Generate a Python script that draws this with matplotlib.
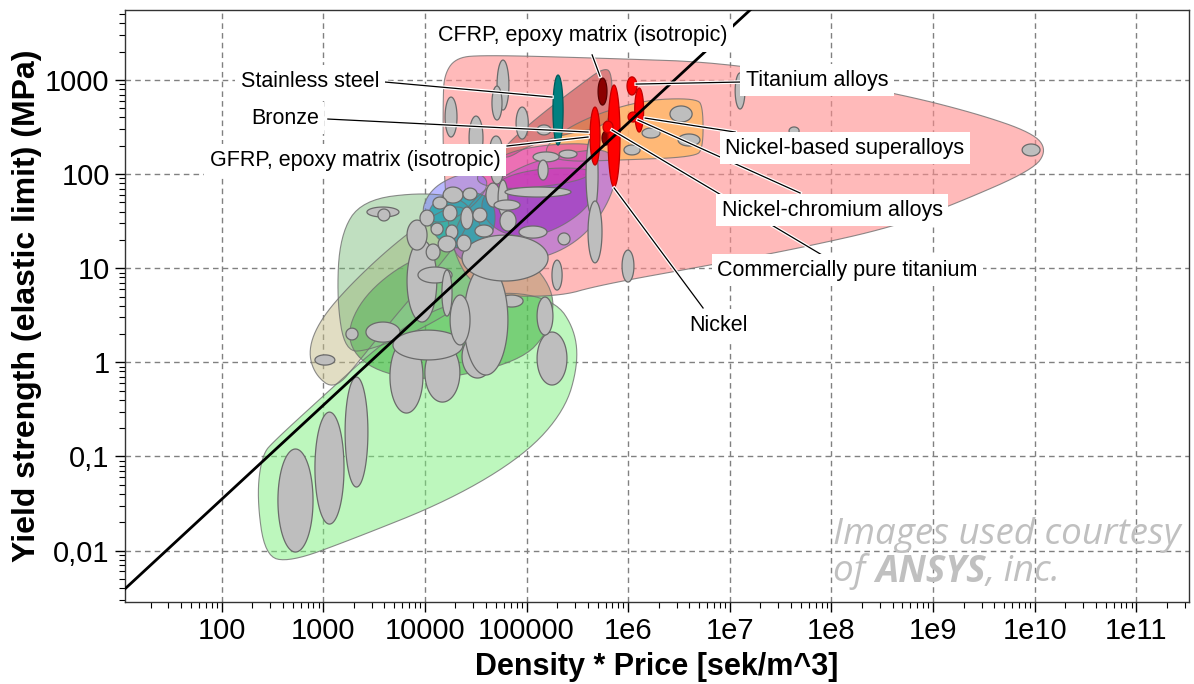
import numpy as np
import matplotlib.pyplot as plt
import matplotlib.patheffects as pe
from matplotlib.ticker import FixedLocator, FuncFormatter, LogLocator, NullFormatter

plt.rcParams['font.family'] = ['Liberation Sans', 'DejaVu Sans']

# ---- family envelopes (density*price [sek/m^3], yield strength [MPa]) ----
env_lightgreen_x = [2.22e2, 2.49e2, 3.35e2, 1.16e3, 3.61e3, 1.12e4, 5.48e4, 1.91e5, 3.0e5, 3.21e5, 2.39e5, 9.66e4, 1.77e4, 1.83e3, 4.70e2, 2.67e2]
env_lightgreen_y = [0.0371, 0.104, 0.149, 0.508, 1.53, 3.60, 5.86, 4.59, 2.20, 0.935, 0.311, 0.104, 0.0344, 0.0129, 0.00755, 0.00873]
env_tan_x = [7.08e2, 9.29e2, 1.83e3, 5.07e3, 1.41e4, 2.48e4, 2.78e4, 1.41e4, 5.69e3, 2.30e3, 1.30e3, 8.28e2]
env_tan_y = [1.35, 2.82, 6.64, 18.5, 41.5, 47.0, 28.8, 10.8, 3.60, 1.06, 0.508, 0.733]
env_midgreen_x = [1.64e3, 2.30e3, 5.69e3, 1.77e4, 8.63e4, 1.91e5, 1.70e5, 8.63e4, 1.12e4, 2.88e3]
env_midgreen_y = [1.73, 4.59, 10.8, 17.7, 15.6, 5.86, 2.20, 1.01, 0.618, 0.828]
env_sage_x = [2.40e3, 1.0e4, 2.78e4, 4.38e4, 2.78e4, 8.95e3, 2.88e3, 1.64e3, 1.36e3, 1.46e3]
env_sage_y = [53.1, 64.6, 53.1, 15.6, 4.59, 2.20, 1.35, 1.29, 4.59, 22.5]
env_pink_x = [1.51e4, 1.55e4, 1.98e4, 3.48e4, 5.28e5, 1.13e7, 4.24e8, 2.59e9, 9.66e9, 1.32e10, 9.66e9, 1.73e9, 4.05e8, 4.92e7, 6.39e6, 5.28e5, 2.0e5, 3.48e4, 1.77e4, 1.51e4]
env_pink_y = [612, 1130, 1700, 1850, 1710, 1520, 728, 446, 274, 180, 111, 49.3, 27.4, 16.4, 10.8, 6.64, 4.94, 5.19, 15.6, 141]
env_orange_x = [1.36e5, 3.0e5, 1.31e6, 4.76e6, 5.46e6, 5.46e6, 4.55e6, 8.32e5, 2.14e5]
env_orange_y = [180, 358, 612, 644, 504, 189, 152, 141, 135]
env_cfrp_x = [5.48e4, 1.36e5, 3.36e5, 5.66e5, 6.95e5, 6.95e5, 5.28e5, 2.68e5, 1.08e5, 6.14e4]
env_cfrp_y = [180, 425, 885, 1340, 1220, 425, 309, 274, 204, 141]
env_lavender_x = [1.77e4, 2.78e4, 8.63e4, 3.36e5, 6.95e5, 7.96e5, 5.92e5, 3.36e5, 1.52e5, 4.90e4, 2.21e4]
env_lavender_y = [20.0, 53.1, 125, 180, 180, 97.7, 41.5, 20.0, 12.8, 10.8, 11.6]
env_purple_x = [3.48e4, 5.48e4, 1.36e5, 4.22e5, 5.28e5, 4.22e5, 2.39e5, 1.21e5, 6.14e4, 3.90e4]
env_purple_y = [53.1, 91.0, 116, 116, 86.5, 47.0, 28.8, 21.5, 22.5, 32.5]
env_magenta_x = [2.78e4, 5.48e4, 1.36e5, 4.22e5, 5.28e5, 4.72e5, 2.14e5, 5.48e4]
env_magenta_y = [86.5, 160, 204, 214, 180, 97.7, 76.6, 67.8]
env_blue_x = [8.95e3, 1.12e4, 1.98e4, 3.48e4, 4.38e4, 2.78e4, 1.41e4]
env_blue_y = [36.7, 67.8, 97.7, 105, 76.6, 41.5, 28.8]
env_teal_x = [1.0e4, 1.41e4, 2.78e4, 4.90e4, 4.90e4, 2.78e4, 1.41e4]
env_teal_y = [36.7, 60.0, 67.8, 53.1, 22.5, 15.6, 17.7]

# ---- material bubbles: property ranges (min, max) ----
bub_x_lo = [3.58e2, 8.28e2, 1.64e3, 4.53e3, 1.0e4, 4.85e3, 2.32e4, 1.27e5, 1.27e5, 5.48e4,
            2.42e4, 2.32e4, 6.67e3, 8.55e3, 1.47e4, 1.77e4, 2.63e3, 1.67e3, 8.28e2, 2.69e3,
            3.45e3, 6.67e3, 1.03e4, 1.51e4, 2.37e4, 1.20e4, 1.51e4, 8.95e3, 1.15e4, 1.61e4,
            2.26e4, 2.97e4, 3.11e4, 3.99e4, 5.25e4, 4.79e4, 5.48e4, 8.43e4, 1.35e4, 2.07e4,
            6.14e4, 1.16e5, 1.30e5, 2.09e5, 3.85e5, 4.03e5, 8.71e5, 1.78e5, 2.04e5, 5.13e4,
            4.57e4, 1.58e4, 7.89e4, 2.72e4, 1.27e5, 4.38e4, 4.48e4, 2.58e6, 3.10e6, 1.37e6,
            9.10e5, 1.13e7, 7.53e9, 3.83e7]
bub_x_hi = [7.93e2, 1.60e3, 2.75e3, 9.57e3, 2.21e4, 2.37e4, 4.68e4, 2.50e5, 1.82e5, 9.25e4,
            6.56e4, 1.63e5, 1.31e4, 1.85e4, 1.85e4, 2.78e4, 5.69e3, 2.20e3, 1.30e3, 5.56e3,
            4.53e3, 1.05e4, 1.41e4, 2.37e4, 3.26e4, 1.65e4, 2.07e4, 1.23e4, 1.51e4, 2.11e4,
            2.97e4, 4.08e4, 4.68e4, 5.48e4, 6.56e4, 8.63e4, 7.89e4, 1.59e5, 2.02e4, 2.84e4,
            2.74e5, 2.09e5, 1.63e5, 3.14e5, 5.06e5, 5.53e5, 1.14e6, 2.24e5, 2.68e5, 6.71e4,
            5.74e4, 2.07e4, 1.04e5, 3.73e4, 1.74e5, 5.74e4, 5.87e4, 4.26e6, 5.09e6, 2.06e6,
            1.31e6, 1.41e7, 1.13e10, 4.81e7]
bub_y_lo = [0.00964, 0.0191, 0.0473, 0.289, 0.378, 1.06, 0.681, 0.574, 1.95, 3.87,
            0.733, 7.31, 2.68, 6.97, 3.10, 1.53, 1.64, 1.73, 0.935, 35.0,
            31.8, 15.6, 12.2, 49.3, 53.1, 42.6, 31.8, 28.1, 22.5, 20.4,
            26.1, 31.0, 21.5, 44.7, 35.9, 41.5, 24.8, 20.9, 14.9, 15.2,
            57.1, 135, 86.5, 148, 36.7, 11.4, 7.13, 5.86, 17.7, 480,
            376, 248, 236, 141, 261, 141, 78.5, 358, 199, 242,
            160, 492, 156, 261]
bub_y_hi = [0.120, 0.296, 0.698, 1.73, 1.60, 2.20, 1.95, 2.10, 4.94, 5.19,
            10.8, 22.5, 20.0, 10.3, 9.57, 5.19, 2.68, 2.31, 1.20, 44.7,
            42.6, 32.5, 18.1, 72.9, 71.1, 57.1, 47.0, 41.5, 30.2, 28.8,
            44.7, 43.6, 28.8, 80.4, 86.5, 53.1, 40.6, 28.1, 22.0, 22.5,
            72.9, 172, 141, 180, 261, 51.8, 15.6, 12.2, 23.7, 1630,
            863, 659, 516, 414, 333, 254, 141, 530, 267, 309,
            204, 1190, 209, 317]

# highlighted materials
hl_x_lo = [1.82e5, 5.06e5, 5.53e5, 4.22e5, 6.34e5, 5.66e5, 9.75e5, 1.16e6, 9.98e5]
hl_x_hi = [2.29e5, 6.19e5, 6.64e5, 5.28e5, 8.32e5, 7.10e5, 1.22e6, 1.42e6, 1.25e6]
hl_y_lo = [204, 542, 204, 125, 72.9, 274, 693, 280, 358]
hl_y_hi = [1130, 1050, 287, 516, 885, 366, 1080, 822, 457]
hl_face = ['#008080', '#8b0000', '#8b0000', '#ff0000', '#ff0000', '#ff0000', '#ff0000', '#ff0000', '#ff0000']
hl_edge = ['#005a5a', '#5a0000', '#5a0000', '#c00000', '#c00000', '#c00000', '#c00000', '#c00000', '#c00000']

# guide line: yield strength = c * (density*price)
guide_c = 3.5e-4
guide_x = [1.0, 1.0e12]

# annotations
label_text = ['Stainless steel', 'Bronze', 'GFRP, epoxy matrix (isotropic)',
              'CFRP, epoxy matrix (isotropic)', 'Titanium alloys', 'Nickel-based superalloys',
              'Nickel-chromium alloys', 'Commercially pure titanium', 'Nickel']
label_pos = [(7.40e2, 975), (4.20e2, 394), (2.05e3, 141), (3.61e5, 2940), (7.23e7, 1000),
             (1.36e8, 189), (1.02e8, 41.5), (1.43e8, 9.57), (7.66e6, 2.49)]
leader_from = [(4.05e3, 952), (1.11e3, 385), (6.43e4, 199), (4.42e5, 1850), (1.26e7, 952),
               (1.13e7, 280), (4.92e7, 63.0), (8.11e7, 13.8), (5.46e6, 3.78)]
leader_to = [(1.78e5, 659), (4.03e5, 280), (4.03e5, 248), (5.28e5, 1100), (1.20e6, 906),
             (1.47e6, 394), (1.25e6, 376), (6.95e5, 294), (7.28e5, 71.1)]

x_ticks = [1e2, 1e3, 1e4, 1e5, 1e6, 1e7, 1e8, 1e9, 1e10, 1e11]
y_ticks = [0.01, 0.1, 1, 10, 100, 1000]


def smooth_closed(xs, ys, n_iter=3):
    # chaikin corner cutting in log space
    pts = np.column_stack([np.log10(xs), np.log10(ys)])
    for _ in range(n_iter):
        nxt = np.roll(pts, -1, axis=0)
        new = np.empty((2 * len(pts), 2))
        new[0::2] = 0.75 * pts + 0.25 * nxt
        new[1::2] = 0.25 * pts + 0.75 * nxt
        pts = new
    return 10 ** pts[:, 0], 10 ** pts[:, 1]


def draw_envelope(ax, xs, ys, color, alpha):
    sx, sy = smooth_closed(xs, ys)
    ax.fill(sx, sy, facecolor=color, alpha=alpha, edgecolor='none', zorder=1)
    ax.fill(sx, sy, facecolor='none', edgecolor='#707070', lw=0.8, alpha=0.8, zorder=1.1)


def draw_bubble(ax, x_lo, x_hi, y_lo, y_hi, face, edge, z):
    t = np.linspace(0, 2 * np.pi, 90)
    cx = (np.log10(x_lo) + np.log10(x_hi)) / 2
    rx = (np.log10(x_hi) - np.log10(x_lo)) / 2
    cy = (np.log10(y_lo) + np.log10(y_hi)) / 2
    ry = (np.log10(y_hi) - np.log10(y_lo)) / 2
    ax.fill(10 ** (cx + rx * np.cos(t)), 10 ** (cy + ry * np.sin(t)),
            facecolor=face, edgecolor=edge, lw=0.9, zorder=z)


def x_fmt(v, pos):
    if v <= 1e5:
        return '%d' % round(v)
    return '1e%d' % round(np.log10(v))


def y_fmt(v, pos):
    if v >= 1:
        return '%d' % round(v)
    return ('%g' % v).replace('.', ',')


def main():
    fig = plt.figure(figsize=(11.94, 6.84), dpi=100)
    ax = fig.add_axes([0.1047, 0.1199, 0.8911, 0.8655])
    ax.set_xscale('log')
    ax.set_yscale('log')
    ax.set_xlim(11.2, 3.3e11)
    ax.set_ylim(2.84e-3, 5.55e3)

    draw_envelope(ax, env_lightgreen_x, env_lightgreen_y, '#7cf07c', 0.5)
    draw_envelope(ax, env_tan_x, env_tan_y, '#c4bc88', 0.5)
    draw_envelope(ax, env_midgreen_x, env_midgreen_y, '#40b040', 0.55)
    draw_envelope(ax, env_sage_x, env_sage_y, '#74b874', 0.45)
    draw_envelope(ax, env_pink_x, env_pink_y, '#ff8c8c', 0.6)
    draw_envelope(ax, env_orange_x, env_orange_y, '#ffb860', 0.75)
    draw_envelope(ax, env_cfrp_x, env_cfrp_y, '#b03838', 0.45)
    draw_envelope(ax, env_lavender_x, env_lavender_y, '#9050e0', 0.5)
    draw_envelope(ax, env_purple_x, env_purple_y, '#9020c0', 0.55)
    draw_envelope(ax, env_magenta_x, env_magenta_y, '#e040b0', 0.6)
    draw_envelope(ax, env_blue_x, env_blue_y, '#8080ff', 0.55)
    draw_envelope(ax, env_teal_x, env_teal_y, '#20a8a8', 0.8)

    for i in range(len(bub_x_lo)):
        draw_bubble(ax, bub_x_lo[i], bub_x_hi[i], bub_y_lo[i], bub_y_hi[i],
                    '#bebebe', '#6a6a6a', 2)
    for i in range(len(hl_x_lo)):
        draw_bubble(ax, hl_x_lo[i], hl_x_hi[i], hl_y_lo[i], hl_y_hi[i],
                    hl_face[i], hl_edge[i], 3)

    gx = np.array(guide_x)
    ax.plot(gx, guide_c * gx, color='black', lw=2, zorder=5)

    halo = [pe.Stroke(linewidth=2.6, foreground='white'), pe.Normal()]
    for i in range(len(label_text)):
        ax.plot([leader_from[i][0], leader_to[i][0]], [leader_from[i][1], leader_to[i][1]],
                color='black', lw=0.9, zorder=6, path_effects=halo)
        ax.text(label_pos[i][0], label_pos[i][1], label_text[i], fontsize=15.5,
                ha='center', va='center', zorder=7,
                bbox=dict(boxstyle='square,pad=0.25', facecolor='white', edgecolor='none'))

    ax.xaxis.set_major_locator(FixedLocator(x_ticks))
    ax.yaxis.set_major_locator(FixedLocator(y_ticks))
    ax.xaxis.set_major_formatter(FuncFormatter(x_fmt))
    ax.yaxis.set_major_formatter(FuncFormatter(y_fmt))
    ax.xaxis.set_minor_locator(LogLocator(base=10, subs=np.arange(2, 10), numticks=30))
    ax.yaxis.set_minor_locator(LogLocator(base=10, subs=np.arange(2, 10), numticks=30))
    ax.xaxis.set_minor_formatter(NullFormatter())
    ax.yaxis.set_minor_formatter(NullFormatter())
    ax.tick_params(which='major', direction='out', length=7, width=1, labelsize=21, pad=4)
    ax.tick_params(which='minor', direction='out', length=4, width=0.8)

    ax.set_axisbelow(True)
    ax.grid(True, which='major', color='#808080', lw=1, ls=(0, (4, 3)))
    for s in ax.spines.values():
        s.set_color('#333333')
        s.set_linewidth(1)

    ax.set_xlabel('Density * Price [sek/m^3]', fontsize=22, fontweight='bold', labelpad=5)
    ax.set_ylabel('Yield strength (elastic limit) (MPa)', fontsize=23, fontweight='bold')
    ax.yaxis.set_label_coords(-0.078, 0.5)

    # watermark
    wm = dict(color='#c0c0c0', fontsize=26.5, family=['Open Sans', 'DejaVu Sans'], style='italic',
              va='center', ha='left', zorder=0)
    fig.text(833 / 1194, 1 - 535 / 684, 'Images used courtesy', **wm)
    fig.canvas.draw()
    r = fig.canvas.get_renderer()
    x0 = 833 / 1194
    y1 = 1 - 572 / 684
    for part, wt in [('of ', 'normal'), ('ANSYS', 'bold'), (', inc.', 'normal')]:
        t = fig.text(x0, y1, part, fontweight=wt, **wm)
        bb = t.get_window_extent(renderer=r)
        x0 = x0 + bb.width / fig.bbox.width

    fig.savefig('out.png', dpi=100)


if __name__ == '__main__':
    main()
